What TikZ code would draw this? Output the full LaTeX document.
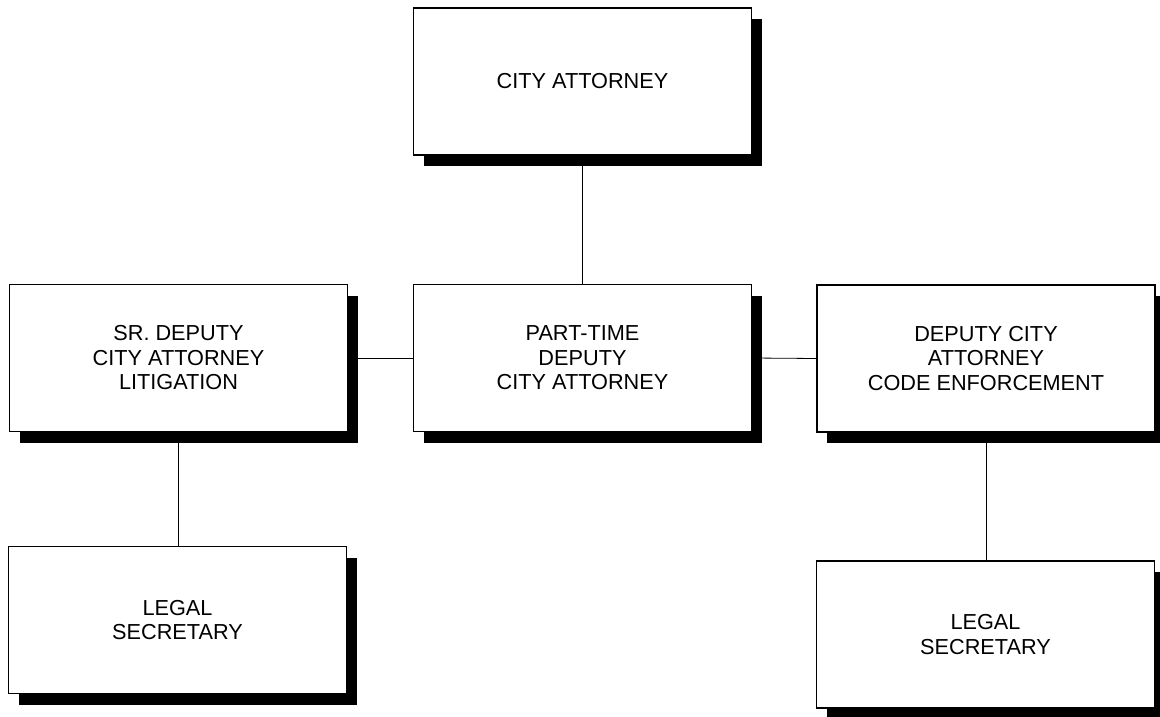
\documentclass[tikz,border=0pt]{standalone}
\usepackage{fontspec}
\setmainfont{Liberation Sans}
\usetikzlibrary{shadows}
\begin{document}
\begin{tikzpicture}[x=1pt,y=-1pt,
  officebox/.style={draw=black, line width=1.1pt, fill=white,
    minimum width=338pt, minimum height=147pt, inner sep=0pt,
    align=center, font=\fontsize{21.7}{24.5}\selectfont,
    general shadow={fill=black, shadow xshift=10pt, shadow yshift=-11pt}},
  link/.style={draw=black, line width=0.8pt}]
  \useasboundingbox (0,0) rectangle (1160,717);

  % boxes
  \node[officebox] (ca) at (582.5,81.5) {CITY ATTORNEY};
  \node[officebox] (sr) at (178.5,358) {SR. DEPUTY\\CITY ATTORNEY\\LITIGATION};
  \node[officebox] (pt) at (582.5,358) {PART-TIME\\DEPUTY\\CITY ATTORNEY};
  \node[officebox] (dc) at (986,358.5) {DEPUTY CITY\\ATTORNEY\\CODE ENFORCEMENT};
  \node[officebox] (ls1) at (177.5,620) {LEGAL\\SECRETARY};
  \node[officebox] (ls2) at (985.5,634.5) {LEGAL\\SECRETARY};

  % reporting lines
  \draw[link] (ca.south) -- (pt.north);
  \draw[link] (sr.east) -- (pt.west);
  \draw[link] (pt.east) -- (dc.west);
  \draw[link] (sr.south) -- (sr.south |- ls1.north);
  \draw[link] (dc.south) -- (dc.south |- ls2.north);
\end{tikzpicture}
\end{document}
